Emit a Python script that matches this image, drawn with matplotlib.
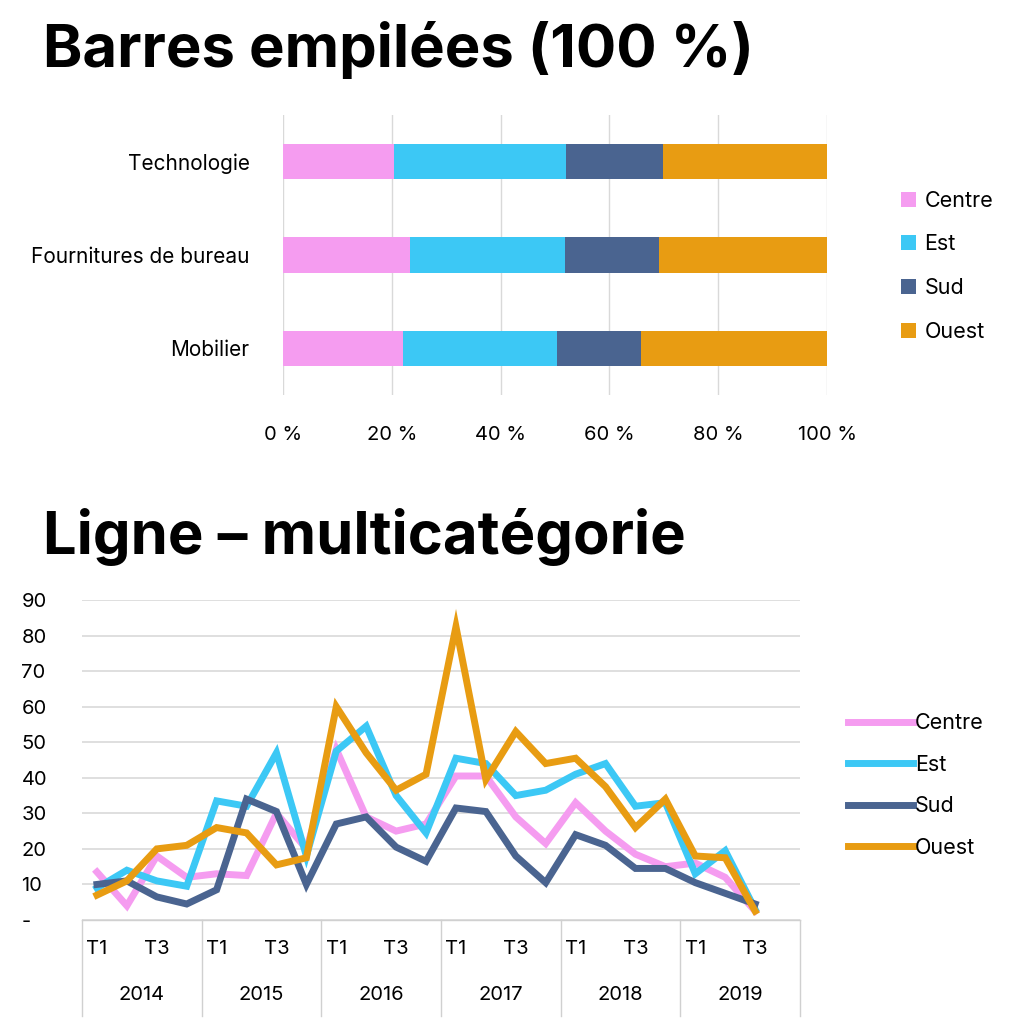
import numpy as np
import matplotlib.pyplot as plt

plt.rcParams['font.family'] = ['Inter', 'DejaVu Sans']

series = ['Centre', 'Est', 'Sud', 'Ouest']
colors = ['#f59cf0', '#3cc8f5', '#4a6490', '#e89c12']

# stacked 100% bars (percent of total)
bar_cats = ['Mobilier', 'Fournitures de bureau', 'Technologie']
bar_centre = [22.0, 23.3, 20.4]
bar_est = [28.4, 28.5, 31.6]
bar_sud = [15.4, 17.3, 17.9]
bar_ouest = [34.2, 30.9, 30.1]

# quarterly lines
years = ['2014', '2015', '2016', '2017', '2018', '2019']
centre = [13.5, 4, 18, 12, 13, 12.5, 30, 20, 48, 29, 25, 27, 40.5, 40.5, 29, 21.5, 33, 25, 18.5, 15, 16, 12, 2.5]
est = [9, 14, 11, 9.5, 33.5, 32, 47, 18, 47.5, 54.5, 35, 24.5, 45.5, 44, 35, 36.5, 41, 44, 32, 33, 13, 19.5, 3]
sud = [10, 11, 6.5, 4.5, 8.5, 34, 30.5, 10, 27, 29, 20.5, 16.5, 31.5, 30.5, 18, 10.5, 24, 21, 14.5, 14.5, 10.5, 7.5, 4.5]
ouest = [7, 11, 20, 21, 26, 24.5, 15.5, 17.5, 60, 47, 36.5, 41, 82.5, 39.5, 53, 44, 45.5, 37.5, 26, 34, 18, 17.5, 2.5]

fig = plt.figure(figsize=(10.24, 10.24), dpi=100)
fig.text(0.042, 0.951, 'Barres empilées (100 %)', fontsize=43, fontweight='bold', va='center')
fig.text(0.042, 0.476, 'Ligne – multicatégorie', fontsize=43, fontweight='bold', va='center')

# --- bar chart
ax1 = fig.add_axes([283/1024, 1-395/1024, 544/1024, 280/1024])
left = np.zeros(3)
for name, vals, c in zip(series, [bar_centre, bar_est, bar_sud, bar_ouest], colors):
    ax1.barh(bar_cats, vals, left=left, color=c, height=0.38, label=name)
    left += np.array(vals)
ax1.set_xlim(0, 100)
ax1.set_ylim(-0.5, 2.5)
ax1.set_xticks(range(0, 101, 20))
ax1.set_xticklabels([f'{v} %' for v in range(0, 101, 20)], fontsize=14.5)
ax1.tick_params(axis='y', labelsize=15, length=0, pad=24)
ax1.tick_params(axis='x', length=0, pad=22)
ax1.grid(axis='x', color='#d9d9d9', lw=1)
ax1.set_axisbelow(True)
for s in ax1.spines.values():
    s.set_visible(False)
ax1.legend(loc='center left', bbox_to_anchor=(1.1, 0.46), frameon=False, fontsize=15.5,
           handlelength=0.7, handleheight=0.7, handletextpad=0.4, labelspacing=1.1)

# --- line chart
ax2 = fig.add_axes([82/1024, 1-920/1024, 718/1024, 320/1024])
x = np.arange(len(centre))
for name, vals, c in zip(series, [centre, est, sud, ouest], colors):
    ax2.plot(x, vals, color=c, lw=5, label=name, solid_joinstyle='miter')
ax2.set_xlim(-0.5, 23.5)
ax2.set_ylim(0, 90)
ax2.set_yticks(range(0, 91, 10))
ax2.set_yticklabels(['-'] + [str(v) for v in range(10, 91, 10)], fontsize=14.5)
ax2.yaxis.set_tick_params(length=0, pad=10)
for lab in ax2.get_yticklabels():
    lab.set_horizontalalignment('left')
    lab.set_x(-0.065)
ax2.set_xticks([])
ax2.grid(axis='y', color='#d9d9d9', lw=1.2)
for s in ax2.spines.values():
    s.set_visible(False)
# two-level category axis
trans = ax2.get_xaxis_transform()
for i in range(0, 24, 2):
    ax2.text(i, -0.09, 'T1' if i % 4 == 0 else 'T3', transform=trans, ha='center', va='center', fontsize=14.5)
for k, yr in enumerate(years):
    ax2.text(4*k + 1.5, -0.235, yr, transform=trans, ha='center', va='center', fontsize=14.5)
for k in range(7):
    ax2.plot([4*k - 0.5]*2, [0, -0.3], transform=trans, color='#d0d0d0', lw=1, clip_on=False)
ax2.plot([-0.5, 23.5], [0, 0], transform=trans, color='#d0d0d0', lw=1, clip_on=False)
ax2.legend(loc='center left', bbox_to_anchor=(1.04, 0.42), frameon=False, fontsize=15.5,
           handlelength=3.0, handletextpad=0.1, labelspacing=1.0)

fig.savefig('out.png', dpi=100)
